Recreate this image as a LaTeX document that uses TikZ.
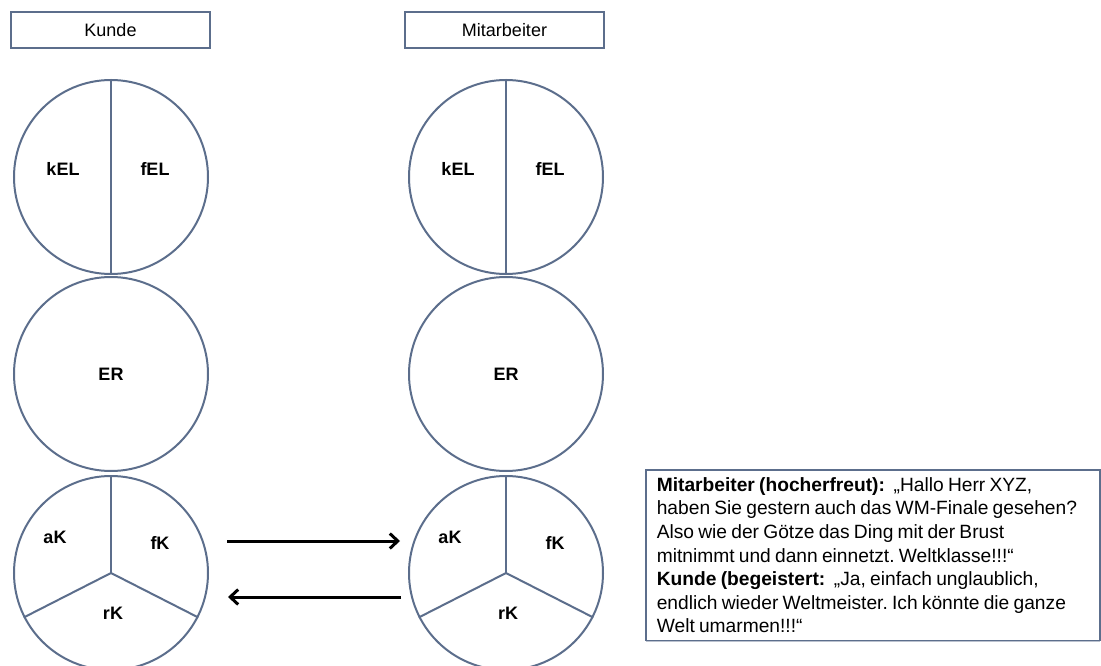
\documentclass[tikz,border=0pt]{standalone}
\usepackage{fontspec}
\setmainfont{Liberation Sans}
\usetikzlibrary{arrows.meta,shadows}
\definecolor{rim}{RGB}{92,110,140}
\begin{document}
\begin{tikzpicture}[x=1pt,y=-1pt,
  rimline/.style={draw=rim, line width=2pt},
  ring/.style={circle, rimline, fill=white, minimum size=194pt, inner sep=0pt},
  headbox/.style={draw=rim, line width=1.6pt, fill=white, minimum width=199pt,
    minimum height=36pt, inner sep=0pt, font=\fontsize{18}{20}\selectfont,
    drop shadow={shadow xshift=0.8pt, shadow yshift=-1.4pt, fill=rim!70, opacity=0.6}},
  lab/.style={font=\bfseries\fontsize{18}{20}\selectfont, inner sep=0pt},
  flow/.style={line width=3pt, -{Straight Barb[length=8pt,width=15pt]}},
  dialog/.style={draw=rim, line width=1.6pt, fill=white, anchor=north west,
    text width=432pt, align=left, inner xsep=11pt, inner ysep=7.5pt,
    font=\fontsize{19.2}{23.6}\selectfont,
    drop shadow={shadow xshift=0.6pt, shadow yshift=-1.6pt, fill=rim!70, opacity=0.6}},
]
\clip (0,0) rectangle (1101,666);
\useasboundingbox (0,0) rectangle (1101,666);

% column headers
\node[headbox] (headK) at (110.5,30) {Kunde};
\node[headbox] (headM) at (504.5,30) {Mitarbeiter};

% customer column
\node[ring] (elK) at (111,177) {};
\draw[rimline] (elK.north) -- (elK.south);
\node[lab] (kelK) at (63,169) {kEL};
\node[lab] (felK) at (155,169) {fEL};

\node[ring] (erK) at (111,374) {};
\node[lab] (erlK) at (111,374) {ER};

\node[ring] (kK) at (111,573) {};
\draw[rimline] (kK.center) -- (kK.north);
\draw[rimline] (kK.center) -- (kK.207);
\draw[rimline] (kK.center) -- (kK.333);
\node[lab] (akK) at (55,537) {aK};
\node[lab] (fkK) at (160,543) {fK};
\node[lab] (rkK) at (113,613) {rK};

% employee column
\node[ring] (elM) at (506,177) {};
\draw[rimline] (elM.north) -- (elM.south);
\node[lab] (kelM) at (458,169) {kEL};
\node[lab] (felM) at (550,169) {fEL};

\node[ring] (erM) at (506,374) {};
\node[lab] (erlM) at (506,374) {ER};

\node[ring] (kM) at (506,573) {};
\draw[rimline] (kM.center) -- (kM.north);
\draw[rimline] (kM.center) -- (kM.207);
\draw[rimline] (kM.center) -- (kM.333);
\node[lab] (akM) at (450,537) {aK};
\node[lab] (fkM) at (555,543) {fK};
\node[lab] (rkM) at (508,613) {rK};

% exchange between the two
\coordinate (sendFrom) at (227,541);
\coordinate (sendTo) at (400,541);
\coordinate (backFrom) at (401,597);
\coordinate (backTo) at (228,597);
\draw[flow] (sendFrom) -- (sendTo);
\draw[flow] (backFrom) -- (backTo);

% dialogue, set with slightly tight word spacing
\node[dialog] (talk) at (645,469) {\frenchspacing\hyphenpenalty=10000 \spaceskip=0.22em plus 0.1em minus 0.05em
\textbf{Mitarbeiter (hocherfreut):}\hspace{0.45em}„Hallo Herr XYZ,\\
haben Sie gestern auch das WM-Finale gesehen?\\
Also wie der Götze das Ding mit der Brust\\
mitnimmt und dann einnetzt. Weltklasse!!!“\\
\textbf{Kunde (begeistert:}\hspace{0.45em}„Ja, einfach unglaublich,\\
endlich wieder Weltmeister. Ich könnte die ganze\\
Welt umarmen!!!“};
\end{tikzpicture}
\end{document}
